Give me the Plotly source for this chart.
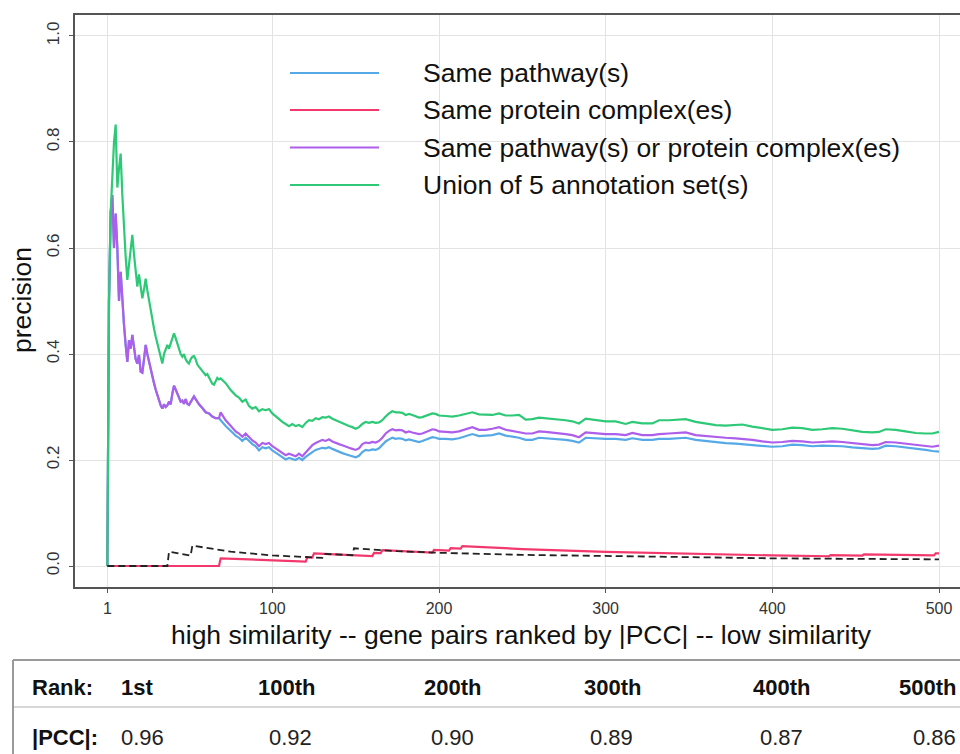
import plotly.graph_objects as go

# ---------------- data ----------------
x_tick_vals = [1, 100, 200, 300, 400, 500]
x_tick_labels = ["1", "100", "200", "300", "400", "500"]
y_tick_vals = [0.0, 0.2, 0.4, 0.6, 0.8, 1.0]
y_tick_labels = ["0.0", "0.2", "0.4", "0.6", "0.8", "1.0"]

series_names = ["Same pathway(s)", "Same protein complex(es)",
                "Same pathway(s) or protein complex(es)", "Union of 5 annotation set(s)"]

green_points = [(1,0),(2,.5),(3,.667),(4,.75),(5,.8),(6,.833),(7,.714),(8,.75),(9,.778),(10,.7),
    (11,.636),(12,.583),(13,.54),(14,.571),(15,.6),(16,.625),(17,.588),(18,.556),(19,.527),(20,.55),
    (21,.524),(22,.505),(23,.522),(24,.542),(25,.52),(26,.5),(27,.481),(28,.464),(29,.448),(30,.433),
    (31,.42),(32,.406),(33,.394),(34,.382),(35,.4),(36,.41),(37,.417),(38,.41),(39,.42),(40,.43),
    (41,.439),(42,.43),(43,.418),(44,.41),(45,.4),(46,.395),(47,.4),(48,.39),(49,.385),(50,.382),
    (51,.39),(52,.395),(53,.396),(54,.39),(55,.38),(56,.376),(57,.373),(58,.37),(59,.365),(60,.36),
    (61,.362),(62,.355),(63,.348),(64,.344),(65,.342),(66,.35),(67,.355),(68,.352),(69,.354),(70,.351),
    (72,.345),(75,.332),(78,.322),(80,.318),(82,.31),(84,.314),(86,.302),(88,.297),(90,.3),(92,.292),
    (94,.296),(96,.294),(98,.296),(100,.288),(102,.282),(104,.277),(106,.272),(108,.268),(110,.264),
    (112,.268),(114,.264),(116,.266),(118,.262),(120,.27),(122,.275),(124,.274),(126,.279),(128,.277),
    (130,.281),(132,.28),(134,.282),(136,.278),(138,.275),(140,.272),(142,.27),(144,.267),(146,.264),
    (148,.262),(150,.259),(152,.262),(154,.268),(156,.272),(158,.27),(160,.272),(162,.27),(164,.271),
    (166,.275),(168,.282),(170,.288),(172,.292),(174,.29),(176,.29),(178,.289),(180,.285),(182,.287),
    (184,.285),(186,.282),(188,.28),(190,.281),(192,.283),(194,.285),(196,.288),(198,.287),(200,.284),
    (204,.283),(208,.282),(212,.284),(216,.287),(220,.29),(224,.286),(228,.286),(232,.285),(236,.288),
    (240,.284),(244,.284),(248,.285),(252,.276),(256,.277),(260,.28),(264,.279),(268,.277),(272,.277),
    (276,.275),(280,.273),(284,.269),(288,.278),(292,.276),(296,.274),(300,.273),(306,.273),(312,.268),
    (316,.272),(322,.269),(328,.269),(332,.275),(338,.275),(344,.276),(348,.277),(354,.272),(360,.269),
    (366,.266),(372,.265),(378,.266),(382,.267),(388,.263),(394,.26),(400,.257),(406,.258),(412,.261),
    (418,.26),(424,.257),(430,.258),(436,.26),(442,.259),(448,.256),(454,.253),(460,.252),(464,.253),
    (468,.258),(474,.257),(480,.254),(486,.251),(492,.25),(496,.25),(500,.253)]

purple_points = [(1,0),(2,.5),(3,.667),(4,.70),(5,.6),(6,.665),(7,.6),(8,.5),(9,.555),(10,.5),
    (11,.455),(12,.417),(13,.385),(14,.426),(15,.41),(16,.436),(17,.41),(18,.39),(19,.382),(20,.398),
    (21,.367),(22,.365),(23,.39),(24,.417),(25,.4),(26,.385),(27,.37),(28,.357),(29,.345),(30,.333),
    (31,.322),(32,.312),(33,.303),(34,.297),(35,.305),(36,.3),(37,.303),(38,.31),(39,.305),(40,.325),
    (41,.34),(42,.333),(43,.326),(44,.318),(45,.31),(46,.312),(47,.306),(48,.315),(49,.306),(50,.304),
    (51,.31),(52,.315),(53,.32),(54,.315),(55,.31),(56,.305),(58,.298),(60,.29),(62,.288),(64,.282),
    (66,.279),(68,.279),(69,.29),(70,.285),(72,.275),(74,.268),(76,.26),(78,.254),(80,.25),(82,.244),
    (84,.25),(86,.243),(88,.237),(90,.233),(92,.226),(94,.232),(96,.23),(98,.232),(100,.226),(102,.222),
    (104,.218),(106,.213),(108,.209),(110,.212),(112,.209),(114,.207),(116,.212),(118,.207),(120,.214),
    (122,.222),(124,.228),(126,.232),(128,.235),(130,.238),(132,.236),(134,.239),(136,.235),(138,.232),
    (140,.23),(142,.228),(144,.225),(146,.223),(148,.221),(150,.219),(152,.222),(154,.23),(156,.233),
    (158,.232),(160,.234),(162,.233),(164,.236),(166,.242),(168,.25),(170,.255),(172,.258),(174,.256),
    (176,.257),(178,.256),(180,.252),(182,.254),(184,.252),(186,.25),(188,.249),(190,.25),(192,.252),
    (194,.255),(196,.258),(198,.257),(200,.254),(204,.253),(208,.252),(212,.254),(216,.258),(220,.262),
    (224,.257),(228,.257),(232,.259),(236,.262),(240,.257),(244,.255),(248,.252),(252,.25),(256,.25),
    (260,.254),(264,.253),(268,.252),(272,.251),(276,.249),(280,.247),(284,.243),(288,.252),(292,.251),
    (296,.25),(300,.249),(306,.249),(312,.247),(316,.251),(322,.247),(328,.247),(332,.249),(338,.25),
    (344,.251),(348,.252),(354,.247),(360,.245),(366,.243),(372,.242),(378,.241),(382,.24),(388,.238),
    (394,.235),(400,.233),(406,.234),(412,.236),(418,.235),(424,.233),(430,.234),(436,.235),(442,.234),
    (448,.232),(454,.229),(460,.228),(464,.229),(468,.234),(474,.233),(480,.231),(486,.229),(492,.227),
    (496,.225),(500,.227)]

blue_points = [(1,0),(2,.5),(3,.667),(4,.70),(5,.6),(6,.665),(7,.6),(8,.5),(9,.555),(10,.5),
    (11,.455),(12,.417),(13,.385),(14,.426),(15,.41),(16,.436),(17,.41),(18,.39),(19,.382),(20,.398),
    (21,.367),(22,.365),(23,.39),(24,.417),(25,.4),(26,.385),(27,.37),(28,.357),(29,.345),(30,.333),
    (31,.322),(32,.312),(33,.303),(34,.297),(35,.305),(36,.3),(37,.303),(38,.31),(39,.305),(40,.325),
    (41,.34),(42,.333),(43,.326),(44,.318),(45,.31),(46,.312),(47,.306),(48,.315),(49,.306),(50,.304),
    (51,.31),(52,.315),(53,.32),(54,.315),(55,.31),(56,.305),(58,.298),(60,.29),(62,.288),(64,.282),
    (66,.279),(68,.279),(69,.275),(70,.271),(72,.264),(74,.258),(76,.252),(78,.246),(80,.242),(82,.236),
    (84,.242),(86,.236),(88,.23),(90,.226),(92,.218),(94,.224),(96,.222),(98,.224),(100,.218),(102,.214),
    (104,.21),(106,.205),(108,.201),(110,.204),(112,.202),(114,.2),(116,.204),(118,.2),(120,.206),
    (122,.211),(124,.215),(126,.219),(128,.221),(130,.223),(132,.222),(134,.224),(136,.221),(138,.218),
    (140,.216),(142,.213),(144,.211),(146,.209),(148,.206),(150,.205),(152,.208),(154,.215),(156,.219),
    (158,.218),(160,.22),(162,.219),(164,.222),(166,.228),(168,.235),(170,.239),(172,.242),(174,.24),
    (176,.241),(178,.24),(180,.237),(182,.239),(184,.237),(186,.235),(188,.234),(190,.236),(192,.238),
    (194,.241),(196,.243),(198,.242),(200,.24),(204,.24),(208,.239),(212,.241),(216,.245),(220,.249),
    (224,.245),(228,.246),(232,.247),(236,.25),(240,.246),(244,.244),(248,.242),(252,.238),(256,.238),
    (260,.242),(264,.241),(268,.24),(272,.24),(276,.238),(280,.236),(284,.233),(288,.242),(292,.241),
    (296,.24),(300,.24),(306,.24),(312,.238),(316,.241),(322,.238),(328,.238),(332,.24),(338,.24),
    (344,.241),(348,.242),(354,.238),(360,.236),(366,.233),(372,.232),(378,.231),(382,.23),(388,.229),
    (394,.227),(400,.225),(406,.226),(412,.229),(418,.228),(424,.226),(430,.227),(436,.227),(442,.226),
    (448,.224),(454,.222),(460,.221),(464,.222),(468,.227),(474,.226),(480,.224),(486,.222),(492,.219),
    (496,.217),(500,.216)]

red_points = [(1,0),(68,0),(69,.0145),(120,.0083),(121,.0165),(124,.016),(125,.024),(160,.0188),
    (161,.0248),(165,.0242),(166,.030),(196,.0255),(197,.0305),(206,.029),(207,.0338),(213,.0328),
    (214,.0374),(250,.032),(300,.0267),(350,.0229),(400,.02),(434,.0184),(435,.0207),(454,.0198),
    (455,.022),(497,.0201),(498,.0241),(500,.024)]

dashed_points = [(1,0),(37,0),(38,.027),(51,.0196),(52,.0385),(75,.027),(100,.02),(130,.0154),
    (131,.0229),(148,.0203),(149,.0335),(175,.028),(200,.025),(250,.021),(300,.019),(350,.0165),
    (400,.0145),(450,.0135),(500,.0126)]

table_rank_header = "Rank:"
table_rank_labels = ["1st", "100th", "200th", "300th", "400th", "500th"]
table_pcc_header = "|PCC|:"
table_pcc_values = ["0.96", "0.92", "0.90", "0.89", "0.87", "0.86"]

# ---------------- styling ----------------
COL_BLUE = "#55A9E6"
COL_RED = "#F2386D"
COL_PURPLE = "#AD5EEA"
COL_GREEN = "#2DC977"
FONT = "Liberation Sans, Arial, Helvetica, sans-serif"
BIG = 26.5

W, H = 960, 754
ML, MR, MT, MB = 75, 0, 15, 167
PW, PH = W - ML - MR, H - MT - MB


def px(x):
    return (x - ML) / PW


def py(y):
    return (H - MB - y) / PH


def unzip(points):
    return [p[0] for p in points], [p[1] for p in points]


fig = go.Figure()
for pts, col, dash, width in [
    (blue_points, COL_BLUE, "solid", 2.2),
    (red_points, COL_RED, "solid", 2.2),
    (purple_points, COL_PURPLE, "solid", 2.2),
    (green_points, COL_GREEN, "solid", 2.2),
    (dashed_points, "#222222", "7px,4px", 1.8),
]:
    xs, ys = unzip(pts)
    fig.add_trace(go.Scatter(x=xs, y=ys, mode="lines",
                             line=dict(color=col, width=width, dash=dash),
                             showlegend=False, hoverinfo="skip"))

annotations = []
shapes = []

# legend (drawn manually to match the long key lines)
legend_cols = [COL_BLUE, COL_RED, COL_PURPLE, COL_GREEN]
legend_y = [73, 110, 147.5, 185]
for name, col, ly in zip(series_names, legend_cols, legend_y):
    shapes.append(dict(type="line", xref="paper", yref="paper",
                       x0=px(290), x1=px(379), y0=py(ly), y1=py(ly),
                       line=dict(color=col, width=2.2)))
    annotations.append(dict(text=name, xref="paper", yref="paper", x=px(421), y=py(ly),
                            xanchor="left", yanchor="middle", showarrow=False,
                            font=dict(family=FONT, size=BIG, color="#111")))

# axis titles
annotations.append(dict(text="precision", xref="paper", yref="paper", x=px(22), y=py(300),
                        textangle=-90, xanchor="center", yanchor="middle", showarrow=False,
                        font=dict(family=FONT, size=BIG, color="#111")))
annotations.append(dict(text="high similarity -- gene pairs ranked by |PCC| -- low similarity",
                        xref="paper", yref="paper", x=px(521), y=py(635),
                        xanchor="center", yanchor="middle", showarrow=False,
                        font=dict(family=FONT, size=BIG, color="#111")))

# table
tbl_line = dict(color="#9a9a9a", width=2)
shapes.append(dict(type="line", xref="paper", yref="paper", x0=px(13), x1=px(960),
                   y0=py(660), y1=py(660), line=tbl_line))
shapes.append(dict(type="line", xref="paper", yref="paper", x0=px(13), x1=px(960),
                   y0=py(707), y1=py(707), line=dict(color="#b0b0b0", width=1.2)))
shapes.append(dict(type="line", xref="paper", yref="paper", x0=px(13), x1=px(13),
                   y0=py(660), y1=py(754), line=tbl_line))

row1_y, row2_y = 687, 737
annotations.append(dict(text="<b>" + table_rank_header + "</b>", xref="paper", yref="paper",
                        x=px(30), y=py(row1_y), xanchor="left", yanchor="middle", showarrow=False,
                        font=dict(family=FONT, size=22, color="#111")))
annotations.append(dict(text="<b>" + table_pcc_header + "</b>", xref="paper", yref="paper",
                        x=px(30), y=py(row2_y), xanchor="left", yanchor="middle", showarrow=False,
                        font=dict(family=FONT, size=22, color="#111")))
head_x = [137, 286, 452, 612, 781, 930]
val_x = [142, 290, 452, 611, 781, 935]
n_cols = len(table_rank_labels)
for i, (lab, hx) in enumerate(zip(table_rank_labels, head_x)):
    last = i == n_cols - 1
    annotations.append(dict(text="<b>" + lab + "</b>", xref="paper", yref="paper",
                            x=px(958 if last else hx), y=py(row1_y),
                            xanchor="right" if last else "center", yanchor="middle",
                            showarrow=False, font=dict(family=FONT, size=22, color="#111")))
for i, (val, vx) in enumerate(zip(table_pcc_values, val_x)):
    last = i == n_cols - 1
    annotations.append(dict(text=val, xref="paper", yref="paper",
                            x=px(958 if last else vx), y=py(row2_y),
                            xanchor="right" if last else "center", yanchor="middle",
                            showarrow=False, font=dict(family=FONT, size=22, color="#222")))

fig.update_layout(
    width=W, height=H,
    margin=dict(l=ML, r=MR, t=MT, b=MB, pad=0),
    paper_bgcolor="white", plot_bgcolor="white",
    font=dict(family=FONT),
    annotations=annotations, shapes=shapes,
    xaxis=dict(range=[-18.4, 512.6], tickvals=x_tick_vals, ticktext=x_tick_labels,
               showgrid=True, gridcolor="#E3E3E3", gridwidth=1, zeroline=False,
               showline=True, linecolor="#555555", linewidth=1.5, mirror=True,
               ticks="outside", ticklen=4, tickcolor="#555555", tickwidth=1,
               ticklabelstandoff=2,
               tickfont=dict(family=FONT, size=16, color="#333")),
    yaxis=dict(range=[-0.0396, 1.0396], tickvals=y_tick_vals, ticktext=y_tick_labels,
               tickangle=-90, showgrid=True, gridcolor="#E3E3E3", gridwidth=1, zeroline=False,
               showline=True, linecolor="#555555", linewidth=1.5, mirror=False,
               ticks="outside", ticklen=4, tickcolor="#555555", tickwidth=1,
               ticklabelstandoff=3,
               tickfont=dict(family=FONT, size=17, color="#333")),
)

fig.write_html("out.html")
